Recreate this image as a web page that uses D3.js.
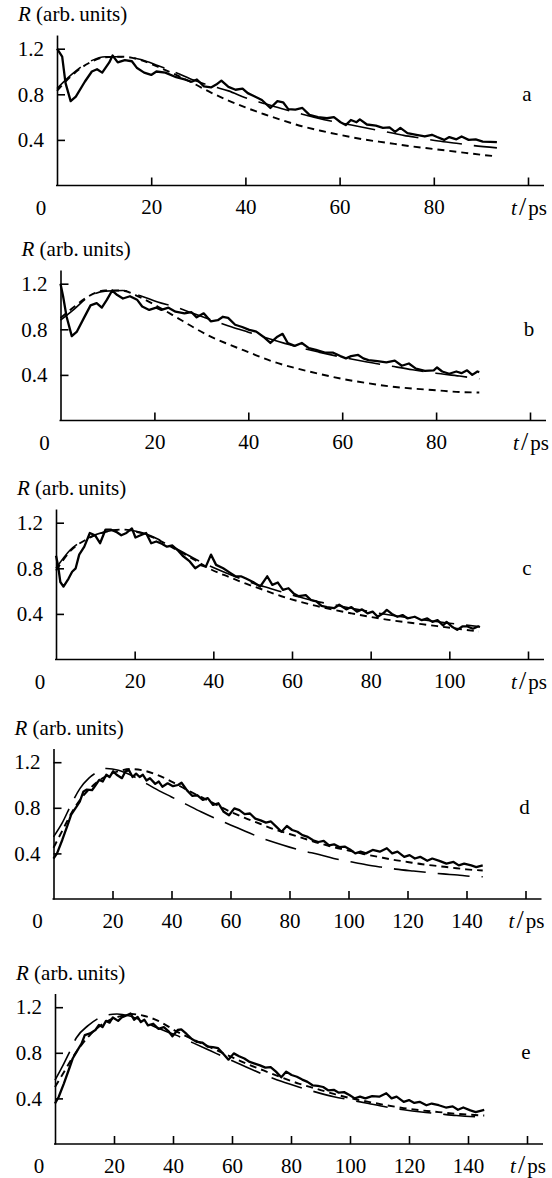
<!DOCTYPE html>
<html>
<head>
<meta charset="utf-8">
<script src="https://cdn.jsdelivr.net/npm/d3@7/dist/d3.min.js"></script>
<style>
  body { margin: 0; background: #fff; }
</style>
</head>
<body>
<svg id="chart" width="552" height="1178"></svg>
<script>
// values, [t in ps, R]
const expA = [[0,1.2],[1.1,1.13],[1.8,0.9],[2.9,0.74],[4.0,0.78],[5.9,0.91],[7.4,1.0],[8.5,1.02],[9.6,0.99],[11.1,1.08],[11.8,1.14],[12.9,1.08],[14.4,1.1],[15.9,1.09],[17.0,1.03],[18.5,0.99],[20,0.97],[21.1,1.0],[23,0.99],[25.3,0.95],[27.1,0.93],[28.6,0.91],[29.7,0.93],[31.2,0.87],[32.7,0.86],[33.8,0.885],[34.9,0.92],[36.4,0.865],[37.9,0.84],[39.4,0.85],[40.5,0.81],[42,0.78],[43.5,0.75],[45.3,0.68],[46.8,0.74],[48,0.73],[49.1,0.67],[50.6,0.665],[52.1,0.68],[53.6,0.62],[55.4,0.6],[57.3,0.59],[58.8,0.6],[60.2,0.555],[61.3,0.53],[62.4,0.575],[63.6,0.555],[64.3,0.58],[65.8,0.535],[67.7,0.525],[69.2,0.505],[70.6,0.51],[71.8,0.47],[72.9,0.505],[74.4,0.46],[76.3,0.445],[78.1,0.43],[79.6,0.445],[80.7,0.425],[82.2,0.4],[83.3,0.425],[84.8,0.405],[85.9,0.43],[87.4,0.4],[88.9,0.405],[90.4,0.385],[93.4,0.38]];
const longA = [[0,0.85],[3,0.97],[6.6,1.08],[10.3,1.13],[14,1.13],[17.8,1.105],[21.5,1.05],[25.3,0.99],[29,0.925],[33,0.87],[36.4,0.83],[40,0.77],[43.9,0.72],[47.6,0.675],[51.3,0.635],[55,0.595],[58.7,0.56],[62.5,0.53],[66.2,0.5],[70,0.47],[73.6,0.44],[77.3,0.415],[81,0.39],[84.8,0.37],[88.5,0.35],[93.4,0.33]];
const shortA = [[0,0.83],[3,0.96],[6.6,1.07],[10.3,1.125],[14,1.13],[17.8,1.1],[21.5,1.04],[25.3,0.97],[29,0.895],[32.7,0.815],[36.4,0.745],[40,0.685],[44,0.625],[48,0.57],[52,0.52],[56,0.48],[60,0.445],[65,0.405],[70,0.375],[75,0.345],[80,0.32],[85,0.295],[90,0.27],[93.4,0.255]];

const expB = [[0,1.2],[0.55,1.09],[1.3,0.91],[2.4,0.74],[3.5,0.78],[5,0.9],[6.4,1.01],[7.7,1.03],[8.8,0.99],[9.9,1.06],[11,1.14],[12.1,1.1],[13.3,1.07],[14.8,1.09],[16.3,1.06],[17.4,1.0],[18.9,0.97],[20.4,0.99],[21.5,0.97],[23,0.99],[24.5,0.955],[26.4,0.94],[27.9,0.95],[29,0.905],[30.5,0.94],[32,0.87],[33.5,0.88],[34.6,0.91],[35.7,0.9],[37.2,0.84],[38.7,0.82],[40.2,0.795],[41.7,0.78],[43.2,0.735],[44.7,0.68],[46.2,0.735],[47.3,0.76],[48.4,0.68],[49.9,0.655],[51.4,0.68],[52.9,0.635],[54.4,0.62],[56.3,0.595],[58.1,0.595],[59.6,0.565],[60.8,0.545],[61.9,0.565],[63.4,0.575],[64.5,0.545],[65.6,0.53],[67.5,0.52],[69.4,0.51],[71.2,0.525],[72.7,0.48],[74.2,0.5],[75.7,0.455],[77.6,0.435],[79.5,0.44],[80.2,0.465],[81.3,0.43],[82.8,0.41],[84.3,0.43],[85.4,0.415],[86.6,0.44],[87.7,0.4],[88.8,0.43],[89.2,0.425]];
const longB = [[0,0.88],[3,0.98],[5.8,1.08],[9.5,1.135],[13.3,1.14],[17,1.095],[20.7,1.04],[24.5,0.995],[28.2,0.94],[32,0.885],[36.5,0.82],[40,0.775],[45,0.71],[50,0.65],[55,0.6],[60,0.555],[65,0.515],[70,0.48],[75,0.445],[80,0.415],[85,0.39],[89.2,0.365]];
const shortB = [[0,0.9],[3,1.0],[6,1.09],[9.5,1.14],[13,1.14],[17,1.08],[20.7,1.0],[24.5,0.91],[28.2,0.82],[32,0.735],[36,0.665],[40,0.6],[45,0.52],[50,0.46],[55,0.41],[60,0.365],[65,0.33],[70,0.3],[75,0.28],[80,0.265],[85,0.25],[89.2,0.245]];

const expC = [[0,0.91],[0.5,0.83],[1.1,0.68],[1.9,0.64],[3.2,0.71],[4.1,0.77],[5,0.8],[5.9,0.92],[7.2,0.99],[8.6,1.11],[9.9,1.09],[11.2,1.02],[12.6,1.14],[13.9,1.14],[15.3,1.12],[16.6,1.09],[17.9,1.11],[19.3,1.15],[20.2,1.07],[21.5,1.09],[22.9,1.11],[24.2,1.02],[25.5,1.035],[26.9,1.015],[28.2,0.99],[29.6,1.0],[30.9,0.96],[32.2,0.91],[34,0.86],[35.4,0.8],[36.7,0.83],[38.1,0.815],[39.4,0.92],[40.7,0.83],[42.5,0.8],[44.3,0.76],[45.6,0.73],[47,0.73],[48.3,0.71],[50.1,0.68],[51.9,0.64],[53.7,0.73],[55,0.655],[56.4,0.675],[57.7,0.61],[59.1,0.625],[60.4,0.58],[61.7,0.555],[63.5,0.565],[64.9,0.52],[66.2,0.51],[67.5,0.47],[68.9,0.46],[70.7,0.45],[72,0.48],[73.8,0.44],[75.1,0.46],[76.5,0.42],[77.8,0.44],[79.2,0.405],[80.5,0.42],[81.8,0.375],[83.2,0.405],[84.1,0.435],[85.4,0.4],[86.8,0.375],[88.1,0.39],[89.4,0.36],[91.2,0.375],[93,0.345],[94.4,0.36],[95.7,0.33],[97,0.345],[98.4,0.3],[99.3,0.33],[100.6,0.29],[102,0.26],[103.3,0.29],[104.6,0.29],[106,0.27],[107.3,0.29],[107.8,0.285]];
const longC = [[0,0.8],[3.6,0.96],[8.1,1.065],[12.6,1.12],[17,1.14],[21.5,1.115],[26,1.055],[30.5,0.975],[34.9,0.89],[39.4,0.815],[43.9,0.75],[48.3,0.69],[52.8,0.64],[57.3,0.595],[61.7,0.55],[66.2,0.51],[70.7,0.48],[75.1,0.45],[84.1,0.395],[93,0.35],[102,0.31],[107.5,0.29]];
const shortC = [[0,0.78],[3.6,0.95],[8.1,1.06],[12.6,1.12],[17,1.14],[21.5,1.11],[26,1.05],[30.5,0.965],[34.9,0.88],[39.4,0.79],[43.9,0.725],[48.3,0.665],[52.8,0.61],[57.3,0.555],[61.7,0.51],[66.2,0.47],[70.7,0.435],[75.1,0.405],[84.1,0.35],[93,0.31],[102,0.27],[107.5,0.245]];

const expD = [[0,0.355],[1.2,0.4],[3,0.52],[4.8,0.65],[6,0.74],[7.8,0.81],[8.9,0.855],[10.1,0.94],[11.3,0.96],[13.1,0.955],[14.3,1.0],[15.5,1.045],[16.7,1.03],[17.9,1.09],[19,1.07],[20.2,1.12],[21.4,1.09],[23.2,1.06],[24.4,1.12],[25.6,1.13],[26.8,1.07],[28,1.1],[29.2,1.07],[30.3,1.09],[31.5,1.04],[32.7,1.06],[34.5,1.01],[35.7,1.03],[36.9,0.985],[38.7,1.015],[40.5,0.99],[42.2,1.0],[43.4,1.02],[45.2,0.955],[47,0.905],[48.8,0.91],[50.6,0.87],[52.3,0.885],[54.1,0.825],[55.9,0.84],[57.7,0.765],[59.5,0.735],[61.3,0.795],[63,0.78],[64.8,0.745],[66.6,0.75],[68.4,0.705],[70.2,0.69],[72,0.67],[73.7,0.68],[75.5,0.635],[77.3,0.59],[79.1,0.64],[80.9,0.605],[82.7,0.59],[84.4,0.56],[86.2,0.545],[88,0.515],[89.8,0.5],[91.6,0.51],[93.4,0.47],[95.1,0.48],[96.9,0.455],[98.7,0.46],[100.5,0.435],[102.3,0.4],[104.1,0.415],[105.9,0.4],[108.2,0.43],[110.6,0.415],[113,0.445],[114.8,0.4],[116.6,0.415],[118.9,0.37],[120.7,0.385],[122.5,0.355],[124.3,0.37],[126.7,0.335],[128.4,0.355],[130.8,0.335],[133.2,0.31],[135.6,0.325],[137.4,0.295],[139.2,0.31],[141.6,0.295],[143.3,0.28],[145.5,0.295]];
const longD = [[0,0.545],[3,0.67],[6,0.83],[9,0.97],[12,1.06],[15,1.115],[18,1.145],[22,1.13],[26,1.09],[30,1.035],[34,0.975],[40,0.895],[45,0.83],[50,0.765],[55,0.705],[60,0.65],[65,0.595],[70,0.54],[75,0.495],[80,0.455],[85,0.42],[90,0.39],[95,0.355],[100,0.33],[106,0.3],[111,0.28],[116,0.262],[122,0.245],[127,0.232],[132,0.22],[137,0.21],[141,0.2],[145.5,0.195]];
const shortD = [[0,0.45],[3,0.6],[6,0.75],[9,0.87],[12,0.96],[15,1.03],[18,1.08],[22,1.12],[26,1.14],[30,1.13],[35,1.09],[40,1.03],[45,0.96],[50,0.895],[55,0.83],[60,0.765],[65,0.71],[70,0.66],[75,0.61],[80,0.57],[85,0.53],[90,0.49],[95,0.455],[100,0.425],[105,0.395],[110,0.37],[115,0.345],[120,0.325],[125,0.305],[130,0.29],[135,0.275],[140,0.26],[145.5,0.25]];

const expE = [[0,0.355],[1.2,0.41],[3,0.53],[4.8,0.66],[6,0.75],[7.8,0.83],[9,0.88],[10.1,0.955],[11.9,0.97],[13.7,1.0],[14.9,1.045],[16.1,1.025],[17.3,1.08],[18.5,1.065],[19.6,1.11],[21.4,1.08],[22.6,1.11],[24.4,1.13],[25.6,1.145],[26.8,1.09],[28,1.115],[29.1,1.07],[30.3,1.09],[31.5,1.04],[33.3,1.055],[35.1,1.01],[36.9,1.025],[38.6,0.985],[39.8,0.945],[41.6,1.0],[42.8,1.005],[44.6,0.965],[46.4,0.92],[48.1,0.895],[49.9,0.89],[51.7,0.855],[53.5,0.85],[55.3,0.84],[57.1,0.79],[58.8,0.74],[60.6,0.795],[62.4,0.77],[64.2,0.75],[66,0.72],[67.7,0.705],[69.5,0.69],[71.3,0.67],[73.1,0.675],[74.9,0.635],[76.7,0.585],[78.4,0.635],[80.2,0.605],[82,0.59],[83.8,0.565],[85.6,0.545],[87.3,0.515],[89.1,0.51],[90.9,0.5],[92.7,0.47],[94.5,0.475],[96.2,0.45],[98,0.455],[99.8,0.43],[101.6,0.4],[103.4,0.415],[105.2,0.4],[107.5,0.42],[109.9,0.415],[112.3,0.445],[114.1,0.4],[115.8,0.415],[118.2,0.37],[120,0.385],[121.8,0.36],[123.6,0.37],[125.9,0.34],[127.7,0.355],[130.1,0.34],[132.5,0.32],[134.8,0.33],[136.6,0.3],[138.4,0.32],[140.8,0.295],[142.6,0.28],[145.5,0.3]];
const longE = [[0,0.56],[3,0.705],[4.8,0.8],[7.2,0.93],[11.3,1.04],[14.9,1.105],[17.3,1.13],[21,1.14],[25,1.125],[30,1.075],[35,1.015],[41,0.955],[47,0.885],[52.9,0.815],[58.8,0.745],[64.8,0.675],[70.7,0.61],[76.7,0.55],[82.6,0.5],[88.5,0.455],[94.5,0.415],[100.4,0.385],[106.3,0.355],[112.3,0.325],[118.2,0.3],[124.2,0.28],[130.1,0.265],[136.1,0.25],[145.5,0.235]];
const shortE = [[0,0.5],[3,0.63],[6,0.76],[9,0.87],[12,0.96],[15,1.03],[18,1.08],[22,1.12],[26,1.14],[30,1.125],[35,1.08],[41,0.99],[47,0.915],[52.9,0.845],[58.8,0.775],[64.8,0.705],[70.7,0.645],[76.7,0.585],[82.6,0.53],[88.5,0.485],[94.5,0.44],[100.4,0.4],[106.3,0.37],[112.3,0.34],[118.2,0.315],[124.2,0.295],[130.1,0.28],[136.1,0.265],[145.5,0.25]];

// tick values
const rTicks = [0.4, 0.8, 1.2];
const tTicksAB = [0, 20, 40, 60, 80, 100];
const tTicksC = [0, 20, 40, 60, 80, 100, 120];
const tTicksDE = [0, 20, 40, 60, 80, 100, 120, 140, 160];

// where each panel sits on the page
const layout = [
  { name: 'a', exp: expA, long: longA, short: shortA, ticks: tTicksAB, axisY: 185.5, x0: 57, xEnd: 528 },
  { name: 'b', exp: expB, long: longB, short: shortB, ticks: tTicksAB, axisY: 420.5, x0: 60.5, xEnd: 530 },
  { name: 'c', exp: expC, long: longC, short: shortC, ticks: tTicksC, axisY: 659.5, x0: 56, xEnd: 528 },
  { name: 'd', exp: expD, long: longD, short: shortD, ticks: tTicksDE, axisY: 899, x0: 53.5, xEnd: 525.5 },
  { name: 'e', exp: expE, long: longE, short: shortE, ticks: tTicksDE, axisY: 1144, x0: 55, xEnd: 527 },
];

const FONT = '"Liberation Serif", "Times New Roman", Times, serif';
const FS = 21;
const pxPerUnit = 114; // vertical scale, same in every panel
const rTop = 1.32;

const svg = d3.select('#chart')
  .attr('font-family', FONT)
  .attr('font-size', FS);

layout.forEach((p) => {
  const tMax = p.ticks[p.ticks.length - 1];
  const xScale = d3.scaleLinear().domain([0, tMax]).range([p.x0, p.xEnd]);
  const yScale = d3.scaleLinear().domain([0, rTop]).range([p.axisY, p.axisY - rTop * pxPerUnit]);

  const g = svg.append('g').attr('class', 'panel-' + p.name);

  // x axis, ticks point up into the plot
  const xAxis = d3.axisBottom(xScale)
    .tickValues(p.ticks)
    .tickSizeInner(-8)
    .tickSizeOuter(0)
    .tickPadding(14)
    .tickFormat((d) => (d === 0 || d === tMax ? '' : d));
  const gx = g.append('g')
    .attr('transform', `translate(0, ${p.axisY})`)
    .call(xAxis)
    .attr('font-family', FONT)
    .attr('font-size', FS);
  gx.select('.domain').remove();
  gx.selectAll('.tick line').attr('stroke', '#000').attr('stroke-width', 1.6);
  gx.selectAll('.tick').filter((d) => d === 0).remove();
  g.append('line')
    .attr('x1', xScale(0) - 1).attr('x2', xScale(tMax) + 16)
    .attr('y1', p.axisY).attr('y2', p.axisY)
    .attr('stroke', '#000').attr('stroke-width', 1.6);

  // y axis
  const yAxis = d3.axisLeft(yScale)
    .tickValues(rTicks)
    .tickSizeInner(-8)
    .tickSizeOuter(0)
    .tickPadding(13)
    .tickFormat(d3.format('.1f'));
  const gy = g.append('g')
    .attr('transform', `translate(${xScale(0)}, 0)`)
    .call(yAxis)
    .attr('font-family', FONT)
    .attr('font-size', FS);
  gy.select('.domain').attr('stroke', '#000').attr('stroke-width', 1.6);
  gy.selectAll('.tick line').attr('stroke', '#000').attr('stroke-width', 1.6);

  // "0" sits at the corner, left of the axis
  g.append('text')
    .attr('x', xScale(0) - 16).attr('y', p.axisY + 29)
    .attr('text-anchor', 'middle')
    .text('0');

  // t/ps in place of the last tick label
  const tl = g.append('text')
    .attr('x', xScale(tMax) + 1).attr('y', p.axisY + 29)
    .attr('text-anchor', 'middle');
  tl.append('tspan').attr('font-style', 'italic').text('t');
  tl.append('tspan').attr('font-size', 26).attr('dx', 2).text('/');
  tl.append('tspan').attr('dx', 2).text('ps');

  // R (arb. units)
  const yl = g.append('text')
    .attr('x', xScale(0) - 39).attr('y', yScale(rTop) - 14);
  yl.append('tspan').attr('font-style', 'italic').text('R');
  yl.append('tspan').text(' (arb.\u2009units)');

  // panel letter
  g.append('text')
    .attr('x', xScale(tMax) - 1).attr('y', p.axisY - 85)
    .attr('text-anchor', 'middle')
    .text(p.name);

  const line = d3.line()
    .x((d) => xScale(d[0]))
    .y((d) => yScale(d[1]));
  const smooth = d3.line()
    .x((d) => xScale(d[0]))
    .y((d) => yScale(d[1]))
    .curve(d3.curveMonotoneX);

  g.append('path')
    .datum(p.short)
    .attr('d', smooth)
    .attr('fill', 'none')
    .attr('stroke', '#000')
    .attr('stroke-width', 1.9)
    .attr('stroke-dasharray', '7,5');

  g.append('path')
    .datum(p.long)
    .attr('d', smooth)
    .attr('fill', 'none')
    .attr('stroke', '#000')
    .attr('stroke-width', 1.6)
    .attr('stroke-dasharray', '32,12');

  g.append('path')
    .datum(p.exp)
    .attr('d', line)
    .attr('fill', 'none')
    .attr('stroke', '#000')
    .attr('stroke-width', 2.3)
    .attr('stroke-linejoin', 'round');
});
</script>
</body>
</html>
